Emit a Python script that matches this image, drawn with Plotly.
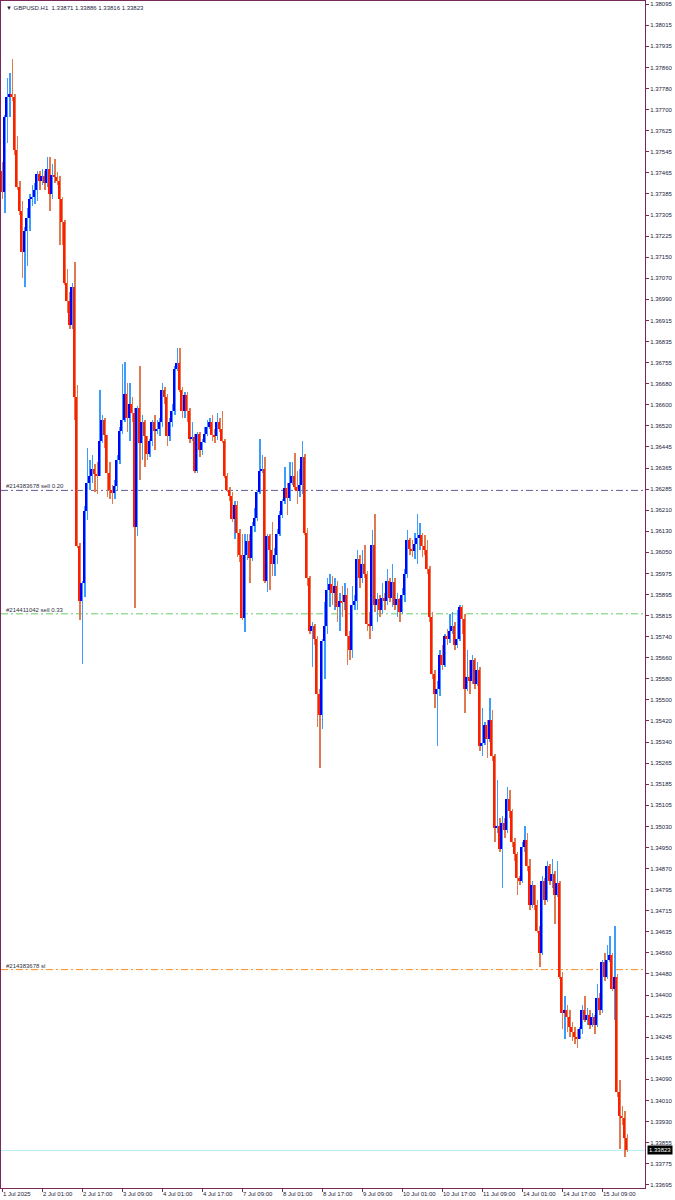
import numpy as np
import plotly.graph_objects as go

# ---------------- data (GBPUSD H1) ----------------
chart_title = "\u25BC GBPUSD.H1  1.33871 1.33886 1.33816 1.33823"

opens = [
    1.37473, 1.37395, 1.37673, 1.37751, 1.37759, 1.37751, 1.37551, 1.37412, 1.37326, 1.37170,
    1.37248, 1.37300, 1.37369, 1.37378, 1.37404, 1.37464, 1.37438, 1.37456, 1.37430, 1.37482,
    1.37386, 1.37459, 1.37452, 1.37438, 1.37369, 1.37282, 1.37057, 1.36988, 1.36901, 1.37040,
    1.36632, 1.36077, 1.35869, 1.35939, 1.36207, 1.36311, 1.36337, 1.36363, 1.36343, 1.36337,
    1.36467, 1.36545, 1.36488, 1.36346, 1.36285, 1.36273, 1.36298, 1.36398, 1.36506, 1.36545,
    1.36641, 1.36554, 1.36606, 1.36571, 1.36147, 1.36589, 1.36459, 1.36537, 1.36485, 1.36419,
    1.36467, 1.36537, 1.36506, 1.36511, 1.36537, 1.36658, 1.36632, 1.36485, 1.36537, 1.36580,
    1.36736, 1.36759, 1.36658, 1.36580, 1.36637, 1.36580, 1.36476, 1.36481, 1.36355, 1.36493,
    1.36433, 1.36464, 1.36493, 1.36519, 1.36537, 1.36488, 1.36485, 1.36537, 1.36511, 1.36467,
    1.36337, 1.36285, 1.36263, 1.36176, 1.36228, 1.36124, 1.36043, 1.35809, 1.36043, 1.36095,
    1.36030, 1.36152, 1.36181, 1.36277, 1.36355, 1.36363, 1.35947, 1.36112, 1.36060, 1.36008,
    1.36043, 1.36121, 1.36190, 1.36245, 1.36291, 1.36256, 1.36311, 1.36337, 1.36294, 1.36280,
    1.36303, 1.36407, 1.36125, 1.35955, 1.35758, 1.35776, 1.35731, 1.35526, 1.35445, 1.35723,
    1.35776, 1.35910, 1.35934, 1.35901, 1.35928, 1.35848, 1.35869, 1.35866, 1.35892, 1.35740,
    1.35687, 1.35857, 1.35869, 1.36026, 1.35955, 1.36009, 1.35973, 1.35785, 1.35776, 1.36080,
    1.35857, 1.35880, 1.35839, 1.35883, 1.35869, 1.35946, 1.35883, 1.35941, 1.35857, 1.35880,
    1.35830, 1.35892, 1.35973, 1.36098, 1.36066, 1.36059, 1.36084, 1.36107, 1.36116, 1.36077,
    1.36062, 1.35991, 1.35812, 1.35597, 1.35526, 1.35544, 1.35669, 1.35633, 1.35740, 1.35731,
    1.35758, 1.35776, 1.35705, 1.35731, 1.35848, 1.35803, 1.35544, 1.35588, 1.35571, 1.35651,
    1.35562, 1.35615, 1.35329, 1.35343, 1.35410, 1.35356, 1.35427, 1.35293, 1.35025, 1.35034,
    1.34945, 1.35043, 1.35016, 1.35132, 1.35088, 1.34972, 1.34927, 1.34837, 1.34829, 1.34954,
    1.34980, 1.34882, 1.34739, 1.34811, 1.34739, 1.34641, 1.34560, 1.34829, 1.34757, 1.34882,
    1.34829, 1.34855, 1.34775, 1.34820, 1.34471, 1.34337, 1.34346, 1.34319, 1.34283, 1.34265,
    1.34247, 1.34238, 1.34274, 1.34346, 1.34310, 1.34328, 1.34289, 1.34319, 1.34292, 1.34390,
    1.34346, 1.34525, 1.34471, 1.34533, 1.34551, 1.34426, 1.34471, 1.34042, 1.33952, 1.33943,
    1.33871,
]

highs = [
    1.37508, 1.37681, 1.37820, 1.37837, 1.37889, 1.37759, 1.37603, 1.37438, 1.37360, 1.37265,
    1.37334, 1.37386, 1.37421, 1.37430, 1.37473, 1.37473, 1.37482, 1.37473, 1.37525, 1.37525,
    1.37499, 1.37517, 1.37470, 1.37456, 1.37378, 1.37291, 1.37109, 1.37022, 1.37057, 1.37135,
    1.36676, 1.36086, 1.35947, 1.36225, 1.36441, 1.36398, 1.36415, 1.36381, 1.36389, 1.36658,
    1.36563, 1.36554, 1.36488, 1.36389, 1.36303, 1.36320, 1.36415, 1.36519, 1.36754, 1.36762,
    1.36684, 1.36684, 1.36632, 1.36589, 1.36597, 1.36745, 1.36563, 1.36545, 1.36485, 1.36476,
    1.36545, 1.36563, 1.36545, 1.36554, 1.36684, 1.36667, 1.36641, 1.36554, 1.36606, 1.36745,
    1.36814, 1.36814, 1.36667, 1.36650, 1.36650, 1.36589, 1.36537, 1.36493, 1.36502, 1.36502,
    1.36476, 1.36519, 1.36545, 1.36554, 1.36563, 1.36511, 1.36571, 1.36554, 1.36580, 1.36476,
    1.36346, 1.36294, 1.36277, 1.36242, 1.36242, 1.36138, 1.36121, 1.36121, 1.36121, 1.36121,
    1.36164, 1.36216, 1.36285, 1.36476, 1.36415, 1.36407, 1.36121, 1.36121, 1.36164, 1.36069,
    1.36138, 1.36207, 1.36251, 1.36372, 1.36311, 1.36389, 1.36389, 1.36424, 1.36355, 1.36363,
    1.36467, 1.36420, 1.36143, 1.35964, 1.35794, 1.35785, 1.35740, 1.35544, 1.35731, 1.35866,
    1.35955, 1.35973, 1.35964, 1.35955, 1.35946, 1.35901, 1.35928, 1.35937, 1.35919, 1.35758,
    1.35928, 1.35892, 1.36062, 1.36044, 1.36062, 1.36080, 1.35982, 1.35830, 1.36134, 1.36196,
    1.35901, 1.35892, 1.35937, 1.35901, 1.35991, 1.35955, 1.36009, 1.35955, 1.35901, 1.35883,
    1.35919, 1.35991, 1.36134, 1.36107, 1.36098, 1.36125, 1.36196, 1.36161, 1.36125, 1.36116,
    1.36098, 1.36000, 1.35830, 1.35615, 1.35571, 1.35687, 1.35705, 1.35749, 1.35767, 1.35821,
    1.35830, 1.35794, 1.35839, 1.35857, 1.35857, 1.35821, 1.35687, 1.35651, 1.35669, 1.35660,
    1.35642, 1.35624, 1.35472, 1.35419, 1.35427, 1.35508, 1.35463, 1.35302, 1.35204, 1.35061,
    1.35070, 1.35061, 1.35177, 1.35168, 1.35097, 1.34989, 1.34936, 1.34846, 1.34972, 1.35034,
    1.35007, 1.34909, 1.34829, 1.34811, 1.34757, 1.34659, 1.34846, 1.34837, 1.34900, 1.34891,
    1.34909, 1.34864, 1.34900, 1.34829, 1.34489, 1.34399, 1.34364, 1.34346, 1.34301, 1.34283,
    1.34274, 1.34283, 1.34364, 1.34399, 1.34355, 1.34346, 1.34337, 1.34328, 1.34444, 1.34408,
    1.34533, 1.34560, 1.34587, 1.34623, 1.34560, 1.34659, 1.34480, 1.34086, 1.33988, 1.33970,
    1.33886,
]

lows = [
    1.37369, 1.37317, 1.37577, 1.37673, 1.37733, 1.37534, 1.37404, 1.37308, 1.37074, 1.37040,
    1.37118, 1.37248, 1.37343, 1.37352, 1.37360, 1.37404, 1.37421, 1.37404, 1.37412, 1.37326,
    1.37369, 1.37430, 1.37421, 1.37196, 1.37196, 1.37048, 1.36944, 1.36884, 1.36884, 1.36545,
    1.36069, 1.35800, 1.35635, 1.35887, 1.36173, 1.36285, 1.36311, 1.36277, 1.36268, 1.36337,
    1.36459, 1.36441, 1.36259, 1.36251, 1.36233, 1.36251, 1.36285, 1.36381, 1.36493, 1.36537,
    1.36502, 1.36467, 1.36537, 1.35843, 1.36112, 1.36320, 1.36398, 1.36372, 1.36398, 1.36407,
    1.36450, 1.36433, 1.36493, 1.36485, 1.36519, 1.36606, 1.36450, 1.36467, 1.36519, 1.36563,
    1.36728, 1.36650, 1.36554, 1.36554, 1.36537, 1.36459, 1.36467, 1.36346, 1.36346, 1.36407,
    1.36415, 1.36459, 1.36485, 1.36511, 1.36467, 1.36459, 1.36471, 1.36502, 1.36459, 1.36329,
    1.36277, 1.36245, 1.36164, 1.36103, 1.36034, 1.36017, 1.35800, 1.35757, 1.36025, 1.35939,
    1.36020, 1.36129, 1.36169, 1.36268, 1.36346, 1.35939, 1.35904, 1.35913, 1.35965, 1.35965,
    1.36008, 1.36112, 1.36181, 1.36233, 1.36190, 1.36242, 1.36303, 1.36285, 1.36233, 1.36259,
    1.36268, 1.36116, 1.35928, 1.35749, 1.35624, 1.35705, 1.35401, 1.35249, 1.35392, 1.35579,
    1.35749, 1.35848, 1.35857, 1.35839, 1.35794, 1.35758, 1.35812, 1.35839, 1.35633, 1.35651,
    1.35660, 1.35839, 1.35839, 1.35919, 1.35937, 1.35955, 1.35758, 1.35731, 1.35758, 1.35830,
    1.35794, 1.35812, 1.35821, 1.35839, 1.35857, 1.35866, 1.35848, 1.35839, 1.35812, 1.35794,
    1.35821, 1.35866, 1.35955, 1.36044, 1.36035, 1.36026, 1.36009, 1.36062, 1.36035, 1.36044,
    1.35973, 1.35794, 1.35579, 1.35472, 1.35329, 1.35517, 1.35615, 1.35624, 1.35705, 1.35714,
    1.35749, 1.35687, 1.35696, 1.35723, 1.35749, 1.35454, 1.35535, 1.35526, 1.35562, 1.35544,
    1.35553, 1.35311, 1.35293, 1.35335, 1.35284, 1.35347, 1.35276, 1.34972, 1.35007, 1.34936,
    1.34802, 1.34989, 1.35007, 1.35061, 1.34954, 1.34900, 1.34775, 1.34811, 1.34820, 1.34936,
    1.34864, 1.34721, 1.34725, 1.34721, 1.34632, 1.34507, 1.34551, 1.34739, 1.34748, 1.34811,
    1.34802, 1.34668, 1.34766, 1.34462, 1.34274, 1.34238, 1.34265, 1.34247, 1.34230, 1.34221,
    1.34203, 1.34238, 1.34256, 1.34301, 1.34292, 1.34274, 1.34283, 1.34256, 1.34283, 1.34328,
    1.34337, 1.34453, 1.34462, 1.34525, 1.34417, 1.34310, 1.34024, 1.33827, 1.33917, 1.33800,
    1.33816,
]

closes = [
    1.37395, 1.37673, 1.37751, 1.37759, 1.37751, 1.37551, 1.37412, 1.37326, 1.37170, 1.37248,
    1.37300, 1.37369, 1.37378, 1.37404, 1.37464, 1.37438, 1.37456, 1.37430, 1.37482, 1.37386,
    1.37459, 1.37452, 1.37438, 1.37369, 1.37282, 1.37057, 1.36988, 1.36901, 1.37040, 1.36632,
    1.36077, 1.35869, 1.35939, 1.36207, 1.36311, 1.36337, 1.36363, 1.36343, 1.36337, 1.36467,
    1.36545, 1.36488, 1.36346, 1.36285, 1.36273, 1.36298, 1.36398, 1.36506, 1.36545, 1.36641,
    1.36554, 1.36606, 1.36571, 1.36147, 1.36589, 1.36459, 1.36537, 1.36485, 1.36419, 1.36467,
    1.36537, 1.36506, 1.36511, 1.36537, 1.36658, 1.36632, 1.36485, 1.36537, 1.36580, 1.36736,
    1.36759, 1.36658, 1.36580, 1.36637, 1.36580, 1.36476, 1.36481, 1.36355, 1.36493, 1.36433,
    1.36464, 1.36493, 1.36519, 1.36537, 1.36488, 1.36485, 1.36537, 1.36511, 1.36467, 1.36337,
    1.36285, 1.36263, 1.36176, 1.36228, 1.36124, 1.36043, 1.35809, 1.36043, 1.36095, 1.36030,
    1.36152, 1.36181, 1.36277, 1.36355, 1.36363, 1.35947, 1.36112, 1.36060, 1.36008, 1.36043,
    1.36121, 1.36190, 1.36245, 1.36291, 1.36256, 1.36311, 1.36337, 1.36294, 1.36280, 1.36303,
    1.36407, 1.36125, 1.35955, 1.35758, 1.35776, 1.35731, 1.35526, 1.35445, 1.35723, 1.35776,
    1.35910, 1.35934, 1.35901, 1.35928, 1.35848, 1.35869, 1.35866, 1.35892, 1.35740, 1.35687,
    1.35857, 1.35869, 1.36026, 1.35955, 1.36009, 1.35973, 1.35785, 1.35776, 1.36080, 1.35857,
    1.35880, 1.35839, 1.35883, 1.35869, 1.35946, 1.35883, 1.35941, 1.35857, 1.35880, 1.35830,
    1.35892, 1.35973, 1.36098, 1.36066, 1.36059, 1.36084, 1.36107, 1.36116, 1.36077, 1.36062,
    1.35991, 1.35812, 1.35597, 1.35526, 1.35544, 1.35669, 1.35633, 1.35740, 1.35731, 1.35758,
    1.35776, 1.35705, 1.35731, 1.35848, 1.35803, 1.35544, 1.35588, 1.35571, 1.35651, 1.35562,
    1.35615, 1.35329, 1.35343, 1.35410, 1.35356, 1.35427, 1.35293, 1.35025, 1.35034, 1.34945,
    1.35043, 1.35016, 1.35132, 1.35088, 1.34972, 1.34927, 1.34837, 1.34829, 1.34954, 1.34980,
    1.34882, 1.34739, 1.34811, 1.34739, 1.34641, 1.34560, 1.34829, 1.34757, 1.34882, 1.34829,
    1.34855, 1.34775, 1.34820, 1.34471, 1.34337, 1.34346, 1.34319, 1.34283, 1.34265, 1.34247,
    1.34238, 1.34274, 1.34346, 1.34310, 1.34328, 1.34289, 1.34319, 1.34292, 1.34390, 1.34346,
    1.34525, 1.34471, 1.34533, 1.34551, 1.34426, 1.34471, 1.34042, 1.33952, 1.33943, 1.33871,
    1.33823,
]

time_tick_bars = [0, 16, 32, 48, 64, 80, 96, 112, 128, 144, 160, 176, 192, 208, 224, 240]
time_tick_labels = [
    "1 Jul 2025", "2 Jul 01:00", "2 Jul 17:00", "3 Jul 09:00", "4 Jul 01:00",
    "4 Jul 17:00", "7 Jul 09:00", "8 Jul 01:00", "8 Jul 17:00", "9 Jul 09:00",
    "10 Jul 01:00", "10 Jul 17:00", "11 Jul 09:00", "14 Jul 01:00", "14 Jul 17:00",
    "15 Jul 09:00",
]

price_tick_labels = [
    "1.38095", "1.38015", "1.37935", "1.37860", "1.37780", "1.37700", "1.37625", "1.37545",
    "1.37465", "1.37385", "1.37305", "1.37225", "1.37150", "1.37070", "1.36990", "1.36915",
    "1.36835", "1.36755", "1.36680", "1.36600", "1.36520", "1.36445", "1.36365", "1.36285",
    "1.36210", "1.36130", "1.36050", "1.35975", "1.35895", "1.35815", "1.35740", "1.35660",
    "1.35580", "1.35500", "1.35420", "1.35340", "1.35265", "1.35185", "1.35105", "1.35030",
    "1.34950", "1.34870", "1.34795", "1.34715", "1.34635", "1.34560", "1.34480", "1.34400",
    "1.34325", "1.34245", "1.34165", "1.34090", "1.34010", "1.33930", "1.33855", "1.33775",
    "1.33695",
]

order_labels = ["#214383678 sell 0.20", "#214411042 sell 0.33", "#214383678 sl"]
order_prices = [1.36283, 1.35823, 1.34497]
bid_price = 1.33823

# ---------------- styles ----------------
FRAME = "#7a2857"
TEXT = "#1c1c3c"
UP_BODY, UP_WICK = "#0000ff", "#3f9cff"
DN_BODY, DN_WICK = "#ff1e00", "#e07a50"
order_colors = ["#5e5e96", "#66cc66", "#ff8c1a"]
FONT = "Liberation Sans"
FS = 6

o = np.array(opens)
h = np.array(highs)
l = np.array(lows)
c = np.array(closes)
x = np.arange(len(c))
up = c >= o
dn = ~up
body_lo = np.minimum(o, c)
body_h = np.maximum(np.abs(c - o), 0.00003)

fig = go.Figure()
for mask, col in ((up, UP_WICK), (dn, DN_WICK)):
    fig.add_trace(go.Bar(x=x[mask], y=(h - l)[mask], base=l[mask], width=0.4, offset=0.0,
                         marker=dict(color=col, line=dict(width=0)), opacity=1,
                         hoverinfo="skip"))
for mask, col in ((up, UP_BODY), (dn, DN_BODY)):
    fig.add_trace(go.Bar(x=x[mask], y=body_h[mask], base=body_lo[mask], width=0.8, offset=-0.8,
                         marker=dict(color=col, line=dict(width=0)), opacity=1,
                         hoverinfo="skip"))

shapes = []
annotations = []
for lab, p, col in zip(order_labels, order_prices, order_colors):
    shapes.append(dict(type="line", xref="paper", x0=0, x1=1, yref="y", y0=p, y1=p,
                       line=dict(color=col, width=1, dash="7px,3px,2px,3px"), layer="below"))
    annotations.append(dict(xref="paper", x=0, y=p, yref="y", xanchor="left", yanchor="bottom",
                            xshift=3, yshift=-1, text=lab, showarrow=False,
                            font=dict(family=FONT, size=FS, color="#303040")))
shapes.append(dict(type="line", xref="paper", x0=0, x1=1, yref="y", y0=bid_price, y1=bid_price,
                   line=dict(color="#b5eef6", width=1), layer="below"))
annotations.append(dict(xref="paper", x=1, y=bid_price, yref="y", xanchor="left", yanchor="middle",
                        xshift=2, text=f"{bid_price:.5f}", showarrow=False, bgcolor="#000000",
                        borderpad=1, font=dict(family=FONT, size=FS, color="#ffffff")))
annotations.append(dict(xref="paper", yref="paper", x=0, y=1, xanchor="left", yanchor="top",
                        xshift=3, yshift=-2, text=chart_title, showarrow=False,
                        font=dict(family=FONT, size=FS, color=TEXT)))

tickvals_y = np.linspace(float(price_tick_labels[0]), float(price_tick_labels[-1]),
                         len(price_tick_labels))

fig.update_layout(
    width=675, height=1200,
    margin=dict(l=1, r=30, t=1, b=12),
    paper_bgcolor="white", plot_bgcolor="white",
    barmode="overlay", bargap=0, showlegend=False,
    font=dict(family=FONT, size=FS, color=TEXT),
    shapes=shapes, annotations=annotations,
    xaxis=dict(range=[-0.4, 257.2], tickmode="array", tickvals=time_tick_bars,
               ticktext=time_tick_labels, ticks="outside", ticklen=3, tickcolor=FRAME,
               tickangle=0, automargin=False,
               ticklabelposition="outside right", showgrid=False, zeroline=False,
               showline=True, linecolor=FRAME, linewidth=1, mirror=True,
               tickfont=dict(family=FONT, size=FS, color=TEXT)),
    yaxis=dict(side="right", range=[1.33683, 1.38107], tickmode="array",
               tickvals=tickvals_y, ticktext=price_tick_labels, ticks="outside",
               ticklen=3, tickcolor=FRAME, showgrid=False, zeroline=False, automargin=False,
               showline=True, linecolor=FRAME, linewidth=1, mirror=True,
               tickfont=dict(family=FONT, size=FS, color=TEXT)),
)

fig.write_html("out.html", config={"displayModeBar": False},
               post_script="document.body.style.margin='0';")
